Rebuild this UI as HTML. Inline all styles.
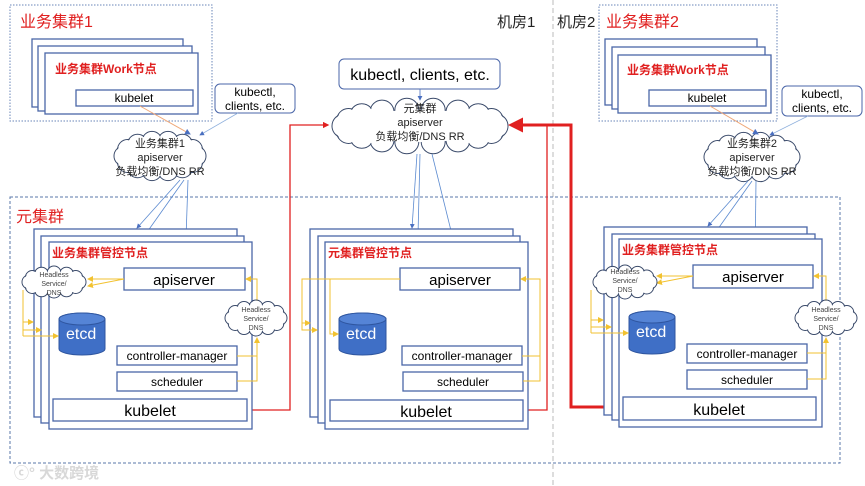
<!DOCTYPE html>
<html><head><meta charset="utf-8">
<style>
html,body{margin:0;padding:0;background:#fff;}
svg{display:block;font-family:"Liberation Sans","Noto Sans CJK SC",sans-serif;}
.r{fill:#fff;stroke:#4a66a8;stroke-width:1.3}
.t{fill:#e02020;font-weight:bold;font-size:12px}
.y{stroke:#f2c230;stroke-width:1;fill:none}
.b{stroke:#5b8ad0;stroke-width:.8;fill:none}
</style></head><body>
<svg id="s" width="865" height="486" viewBox="0 0 865 486" xmlns="http://www.w3.org/2000/svg">
<defs>
<marker id="ay" markerWidth="6" markerHeight="6" refX="5" refY="3" orient="auto"><path d="M0,0L6,3L0,6z" fill="#f2c230"/></marker>
<marker id="ab" markerWidth="6" markerHeight="6" refX="5" refY="3" orient="auto"><path d="M0,0L6,3L0,6z" fill="#4a6fc0"/></marker>
<marker id="ao" markerWidth="6" markerHeight="6" refX="5" refY="3" orient="auto"><path d="M0,0L6,3L0,6z" fill="#4a6fc0"/></marker>
<marker id="ar" markerWidth="5" markerHeight="5" refX="4" refY="2.5" orient="auto"><path d="M0,0L5,2.5L0,5z" fill="#e02020"/></marker>
</defs>
<!-- room divider -->
<line x1="553" y1="0" x2="553" y2="486" stroke="#bbb" stroke-dasharray="5,3"/>
<text x="497" y="27" font-size="15" fill="#222">机房1</text>
<text x="557" y="27" font-size="15" fill="#222">机房2</text>
<!-- meta cluster box -->
<rect x="10" y="197" width="830" height="266" fill="none" stroke="#5a77aa" stroke-dasharray="3,2"/>
<text x="16" y="222" font-size="16" fill="#e02020">元集群</text>

<!-- top-left business cluster -->
<rect x="10" y="5" width="202" height="116" fill="none" stroke="#6a86b8" stroke-dasharray="1.5,1.5"/>
<text x="20" y="27" font-size="16" fill="#e02020">业务集群1</text>
<rect class="r" x="32" y="39" width="151" height="68"/>
<rect class="r" x="38" y="46" width="154" height="65"/>
<rect class="r" x="45" y="53" width="153" height="61"/>
<text class="t" x="55" y="73">业务集群Work节点</text>
<rect class="r" x="76" y="90" width="117" height="16"/>
<text x="134" y="102" font-size="12" text-anchor="middle">kubelet</text>
<rect x="215" y="84" width="80" height="29" rx="5" fill="#fff" stroke="#4a66a8"/>
<text x="255" y="96" font-size="12" text-anchor="middle">kubectl,</text>
<text x="255" y="110" font-size="12" text-anchor="middle">clients, etc.</text>

<!-- top-right business cluster -->
<rect x="599" y="5" width="178" height="116" fill="none" stroke="#6a86b8" stroke-dasharray="1.5,1.5"/>
<text x="606" y="27" font-size="16" fill="#e02020">业务集群2</text>
<rect class="r" x="605" y="39" width="152" height="66"/>
<rect class="r" x="612" y="47" width="153" height="62"/>
<rect class="r" x="618" y="55" width="153" height="58"/>
<text class="t" x="627" y="74">业务集群Work节点</text>
<rect class="r" x="649" y="90" width="117" height="16"/>
<text x="707" y="102" font-size="12" text-anchor="middle">kubelet</text>
<rect x="782" y="86" width="80" height="30" rx="5" fill="#fff" stroke="#4a66a8"/>
<text x="822" y="98" font-size="12" text-anchor="middle">kubectl,</text>
<text x="822" y="112" font-size="12" text-anchor="middle">clients, etc.</text>

<!-- middle top -->
<rect x="339" y="59" width="161" height="30" rx="5" fill="#fff" stroke="#4a66a8"/>
<text x="420" y="80" font-size="16" text-anchor="middle">kubectl, clients, etc.</text>

<g id="clouds"></g>

<!-- connectors top -->
<line x1="420" y1="89" x2="420" y2="100" stroke="#4a6fc0" stroke-width=".8" marker-end="url(#ab)"/>
<line x1="140" y1="106" x2="190" y2="134" stroke="#f0a878" stroke-width="1" marker-end="url(#ao)"/>
<line x1="238" y1="113" x2="200" y2="135" stroke="#8fb0dd" stroke-width=".8" marker-end="url(#ab)"/>
<line x1="710" y1="106" x2="758" y2="134" stroke="#f0a878" stroke-width="1" marker-end="url(#ao)"/>
<line x1="808" y1="116" x2="770" y2="135" stroke="#8fb0dd" stroke-width=".8" marker-end="url(#ab)"/>

<!-- cloud texts -->
<g font-size="11" text-anchor="middle" fill="#222">
<text x="160" y="147">业务集群1</text><text x="160" y="161">apiserver</text><text x="160" y="175">负载均衡/DNS RR</text>
<text x="420" y="112">元集群</text><text x="420" y="126">apiserver</text><text x="420" y="140">负载均衡/DNS RR</text>
<text x="752" y="147">业务集群2</text><text x="752" y="161">apiserver</text><text x="752" y="175">负载均衡/DNS RR</text>
</g>

<!-- blue lines to panels -->
<line class="b" x1="180" y1="180" x2="137" y2="228" marker-end="url(#ab)"/>
<line class="b" x1="184" y1="180" x2="145" y2="235" marker-end="url(#ab)"/>
<line class="b" x1="188" y1="180" x2="185" y2="267" marker-end="url(#ab)"/>
<line class="b" x1="417" y1="154" x2="412" y2="228" marker-end="url(#ab)"/>
<line class="b" x1="420" y1="154" x2="418" y2="235" marker-end="url(#ab)"/>
<line class="b" x1="432" y1="154" x2="460" y2="267" marker-end="url(#ab)"/>
<line class="b" x1="748" y1="181" x2="708" y2="226" marker-end="url(#ab)"/>
<line class="b" x1="752" y1="181" x2="715" y2="233" marker-end="url(#ab)"/>
<line class="b" x1="756" y1="181" x2="755" y2="264" marker-end="url(#ab)"/>

<!-- red lines -->
<path d="M247,410H290V125H328" stroke="#e02020" stroke-width="1.3" fill="none" marker-end="url(#ar)"/>
<path d="M525,410H547V125" stroke="#e02020" stroke-width="1.3" fill="none"/>
<path d="M623,407H571V125H511" stroke="#e02020" stroke-width="3" fill="none" marker-end="url(#ar)"/>

<!-- panels -->
<g id="p1">
<rect class="r" x="34" y="229" width="203" height="188"/>
<rect class="r" x="41" y="236" width="203" height="187"/>
<rect class="r" x="49" y="242" width="203" height="187"/>
<text class="t" x="52" y="257">业务集群管控节点</text>
<rect class="r" x="124" y="268" width="121" height="22"/>
<text x="184" y="285" font-size="15" text-anchor="middle">apiserver</text>
<rect class="r" x="117" y="346" width="120" height="19"/>
<text x="177" y="360" font-size="12" text-anchor="middle">controller-manager</text>
<rect class="r" x="117" y="372" width="120" height="19"/>
<text x="177" y="386" font-size="12" text-anchor="middle">scheduler</text>
<rect class="r" x="53" y="399" width="194" height="22"/>
<text x="150" y="416" font-size="16" text-anchor="middle">kubelet</text>
</g>
<g id="p2">
<rect class="r" x="310" y="229" width="203" height="188"/>
<rect class="r" x="318" y="236" width="202" height="187"/>
<rect class="r" x="325" y="242" width="203" height="187"/>
<text class="t" x="328" y="257">元集群管控节点</text>
<rect class="r" x="400" y="268" width="120" height="22"/>
<text x="460" y="285" font-size="15" text-anchor="middle">apiserver</text>
<rect class="r" x="402" y="346" width="120" height="19"/>
<text x="462" y="360" font-size="12" text-anchor="middle">controller-manager</text>
<rect class="r" x="403" y="372" width="120" height="19"/>
<text x="463" y="386" font-size="12" text-anchor="middle">scheduler</text>
<rect class="r" x="330" y="400" width="193" height="21"/>
<text x="426" y="417" font-size="16" text-anchor="middle">kubelet</text>
</g>
<g id="p3">
<rect class="r" x="604" y="227" width="203" height="188"/>
<rect class="r" x="612" y="234" width="203" height="186"/>
<rect class="r" x="619" y="239" width="203" height="188"/>
<text class="t" x="622" y="254">业务集群管控节点</text>
<rect class="r" x="693" y="265" width="120" height="23"/>
<text x="753" y="282" font-size="15" text-anchor="middle">apiserver</text>
<rect class="r" x="687" y="344" width="120" height="19"/>
<text x="747" y="358" font-size="12" text-anchor="middle">controller-manager</text>
<rect class="r" x="687" y="370" width="120" height="19"/>
<text x="747" y="384" font-size="12" text-anchor="middle">scheduler</text>
<rect class="r" x="623" y="397" width="193" height="23"/>
<text x="719" y="415" font-size="16" text-anchor="middle">kubelet</text>
</g>

<g id="etcd"></g>

<!-- yellow lines panel1 -->
<path class="y" d="M124,279H88" marker-end="url(#ay)"/>
<path class="y" d="M124,279L88,286" marker-end="url(#ay)"/>
<path class="y" d="M23,290V336"/>
<path class="y" d="M23,322H33" marker-end="url(#ay)"/>
<path class="y" d="M23,330H41" marker-end="url(#ay)"/>
<path class="y" d="M23,336H58" marker-end="url(#ay)"/>
<path class="y" d="M237,356H257V338" marker-end="url(#ay)"/>
<path class="y" d="M237,381H257V356"/>
<path class="y" d="M257,302V279H246" marker-end="url(#ay)"/>
<!-- panel2 -->
<path class="y" d="M400,279H302V330H317" marker-end="url(#ay)"/>
<path class="y" d="M302,323H310" marker-end="url(#ay)"/>
<path class="y" d="M330,279V334H338" marker-end="url(#ay)"/>
<path class="y" d="M522,356H540V279H521" marker-end="url(#ay)"/>
<path class="y" d="M523,381H540V356"/>
<!-- panel3 -->
<path class="y" d="M693,276H657" marker-end="url(#ay)"/>
<path class="y" d="M693,276L657,283" marker-end="url(#ay)"/>
<path class="y" d="M591,290V333"/>
<path class="y" d="M591,320H603" marker-end="url(#ay)"/>
<path class="y" d="M591,327H611" marker-end="url(#ay)"/>
<path class="y" d="M591,333H628" marker-end="url(#ay)"/>
<path class="y" d="M807,353H826V338" marker-end="url(#ay)"/>
<path class="y" d="M807,379H826V353"/>
<path class="y" d="M826,302V276H814" marker-end="url(#ay)"/>

<g id="smallclouds"></g>
<g font-size="7" text-anchor="middle" fill="#444">
<text x="54" y="277">Headless</text><text x="54" y="286">Service/</text><text x="54" y="295">DNS</text>
<text x="256" y="312">Headless</text><text x="256" y="321">Service/</text><text x="256" y="330">DNS</text>
<text x="625" y="274">Headless</text><text x="625" y="283">Service/</text><text x="625" y="292">DNS</text>
<text x="826" y="312">Headless</text><text x="826" y="321">Service/</text><text x="826" y="330">DNS</text>
</g>

<text x="14" y="478" font-size="15" fill="#d8d8d8" font-weight="bold">ⓒ° 大数跨境</text>
</svg>
<script>
var NS="http://www.w3.org/2000/svg";
function cloud(g,cx,cy,rx,ry,n,r){
  var pts=[];
  for(var i=0;i<n;i++){var a=2*Math.PI*i/n;pts.push([cx+(rx-r)*Math.cos(a),cy+(ry-r)*Math.sin(a)]);}
  var s="";
  pts.forEach(function(p){s+='<circle cx="'+p[0]+'" cy="'+p[1]+'" r="'+r+'" fill="none" stroke="#3a4a6a" stroke-width="1"/>';});
  pts.forEach(function(p){s+='<circle cx="'+p[0]+'" cy="'+p[1]+'" r="'+(r-0.7)+'" fill="#fff"/>';});
  s+='<ellipse cx="'+cx+'" cy="'+cy+'" rx="'+(rx-r)+'" ry="'+(ry-r)+'" fill="#fff"/>';
  g.insertAdjacentHTML("beforeend",s);
}
var c=document.getElementById("clouds");
var tmp=document.createElementNS(NS,"g");
c.appendChild(tmp);
function cl(g,cx,cy,rx,ry,n,r){var x=document.createElementNS(NS,"g");g.appendChild(x);
  var pts=[],h="";for(var i=0;i<n;i++){var a=2*Math.PI*i/n;pts.push([cx+(rx-r)*Math.cos(a),cy+(ry-r)*Math.sin(a)]);}
  pts.forEach(function(p){var e=document.createElementNS(NS,"circle");e.setAttribute("cx",p[0]);e.setAttribute("cy",p[1]);e.setAttribute("r",r);e.setAttribute("fill","none");e.setAttribute("stroke","#3a4a6a");x.appendChild(e);});
  pts.forEach(function(p){var e=document.createElementNS(NS,"circle");e.setAttribute("cx",p[0]);e.setAttribute("cy",p[1]);e.setAttribute("r",r-0.7);e.setAttribute("fill","#fff");x.appendChild(e);});
  var e=document.createElementNS(NS,"ellipse");e.setAttribute("cx",cx);e.setAttribute("cy",cy);e.setAttribute("rx",rx-r);e.setAttribute("ry",ry-r);e.setAttribute("fill","#fff");x.appendChild(e);
}
cl(c,160,156,46,25,14,10);
cl(c,420,126,88,28,18,12);
cl(c,752,157,48,25,14,10);
var sc=document.getElementById("smallclouds");
cl(sc,54,282,32,16,12,7);
cl(sc,256,318,31,18,12,7);
cl(sc,625,282,32,17,12,7);
cl(sc,826,318,31,18,12,7);
var et=document.getElementById("etcd");
function cyl(x,y,w,h){var ry=6;
  var p=document.createElementNS(NS,"path");
  p.setAttribute("d","M"+x+","+(y+ry)+"V"+(y+h-ry)+"A"+(w/2)+","+ry+" 0 0 0 "+(x+w)+","+(y+h-ry)+"V"+(y+ry)+"A"+(w/2)+","+ry+" 0 0 0 "+x+","+(y+ry)+"z");
  p.setAttribute("fill","#3f6fc6");p.setAttribute("stroke","#2f56a0");et.appendChild(p);
  var e=document.createElementNS(NS,"ellipse");e.setAttribute("cx",x+w/2);e.setAttribute("cy",y+ry);e.setAttribute("rx",w/2);e.setAttribute("ry",ry);e.setAttribute("fill","#5584d6");e.setAttribute("stroke","#2f56a0");et.appendChild(e);
}
cyl(59,313,46,42);cyl(339,313,47,42);cyl(629,311,46,43);
</script>
<svg width="0" height="0" style="position:absolute;top:0;left:0"></svg>
<div style="position:absolute;left:0;top:0;width:865px;height:486px;pointer-events:none;font-family:'Liberation Sans',sans-serif;color:#fff;font-size:16px">
<span style="position:absolute;left:66px;top:326px">etcd</span>
<span style="position:absolute;left:346px;top:326px">etcd</span>
<span style="position:absolute;left:636px;top:324px">etcd</span>
</div>
</body></html>
